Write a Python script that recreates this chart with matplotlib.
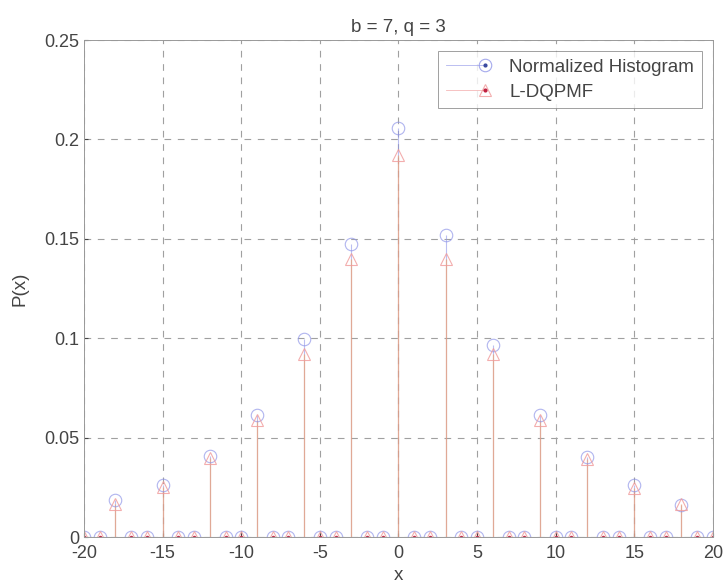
import numpy as np
import matplotlib.pyplot as plt
from matplotlib.lines import Line2D
from matplotlib.legend_handler import HandlerBase

plt.rcParams['font.family'] = ['Liberation Sans', 'DejaVu Sans']
plt.rcParams['axes.unicode_minus'] = False

# data
x = np.arange(-20, 21)
peaks_x = [-18, -15, -12, -9, -6, -3, 0, 3, 6, 9, 12, 15, 18]
hist_peaks = [0.0186, 0.026, 0.041, 0.0612, 0.0996, 0.1474, 0.2056,
              0.152, 0.0966, 0.0614, 0.040, 0.026, 0.016]
pmf_peaks = [0.0166, 0.025, 0.0395, 0.059, 0.092, 0.140, 0.192,
             0.140, 0.092, 0.059, 0.039, 0.0245, 0.0166]

hist = np.zeros(len(x))
pmf = np.zeros(len(x))
for px, h, p in zip(peaks_x, hist_peaks, pmf_peaks):
    hist[px + 20] = h
    pmf[px + 20] = p

blue = '#8f95e8'
red = '#f09a9a'
txt = '#444444'


class StemHandler(HandlerBase):
    # matlab-like stem legend entry: line with the marker at its right end
    def __init__(self, color, marker, dotcolor):
        super().__init__()
        self.color = color
        self.marker = marker
        self.dotcolor = dotcolor

    def create_artists(self, legend, orig_handle, xdescent, ydescent,
                       width, height, fontsize, trans):
        y = height / 2 - ydescent
        x0, x1 = -xdescent, width - xdescent
        line = Line2D([x0, x1], [y, y], color=self.color, lw=0.6,
                      alpha=0.7, transform=trans)
        mk = Line2D([x1], [y], ls='none', marker=self.marker, ms=9,
                    mfc='none', mec=self.color, mew=0.8, alpha=0.8,
                    transform=trans)
        dot = Line2D([x1], [y], ls='none', marker='.', ms=4,
                     color=self.dotcolor, transform=trans)
        return [line, mk, dot]


fig = plt.figure(figsize=(7.26, 5.86), dpi=100)
ax = fig.add_axes([0.1157, 0.0836, 0.982 - 0.1157, 0.9317 - 0.0836])

ax.vlines(x, 0, hist, color=blue, lw=0.8, alpha=0.6)
ax.vlines(x, 0, pmf, color='#f0a070', lw=0.9, alpha=0.7)
ax.axhline(0, color='#bbbbbb', lw=0.8, zorder=1)

h1, = ax.plot(x, hist, 'o', ms=9, mfc='none', mec=blue, mew=0.8, alpha=0.7)
h2, = ax.plot(x, pmf, '^', ms=9, mfc='none', mec=red, mew=0.8, alpha=0.8)
ax.plot(x[pmf == 0], pmf[pmf == 0], '.', ms=3, color='#c03050')

ax.set_xlim(-20, 20)
ax.set_ylim(0, 0.25)
ax.set_xticks(np.arange(-20, 21, 5))
ax.set_yticks([0, 0.05, 0.1, 0.15, 0.2, 0.25])
ax.set_yticklabels(['0', '0.05', '0.1', '0.15', '0.2', '0.25'])
ax.grid(True, ls=(0, (6, 6)), color='#a0a0a0', lw=0.8)
ax.tick_params(colors=txt, labelsize=13, length=3, direction='in')
ax.tick_params(axis='x', pad=6)
for s in ax.spines.values():
    s.set_color('#999999')
    s.set_linewidth(0.7)

ax.set_title('b = 7, q = 3', fontsize=13.5, color=txt, pad=6)
ax.set_xlabel('x', fontsize=13.5, color=txt, labelpad=3)
ax.set_ylabel('P(x)', fontsize=13.5, color=txt, labelpad=11)

leg = ax.legend([h1, h2], ['Normalized Histogram', 'L-DQPMF'],
                handler_map={h1: StemHandler(blue, 'o', '#3a4aa0'),
                             h2: StemHandler(red, '^', '#c02040')},
                loc='upper right', fontsize=13.5, frameon=True, fancybox=False,
                edgecolor='#888888', borderaxespad=0.6, handlelength=2.1,
                labelspacing=0.4, borderpad=0.4, handletextpad=1.3)
leg.get_frame().set_linewidth(0.7)
for t in leg.get_texts():
    t.set_color(txt)

fig.savefig('out.png', dpi=100, facecolor='white')
